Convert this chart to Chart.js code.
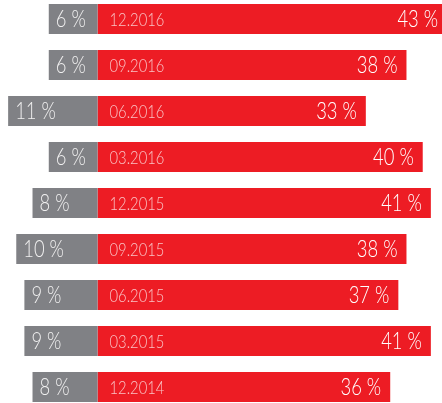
<!DOCTYPE html>
<html>
<head>
<meta charset="utf-8">
<script src="https://cdn.jsdelivr.net/npm/chart.js@4/dist/chart.umd.min.js"></script>
<style>
  html, body { margin: 0; padding: 0; background: #fff; overflow: hidden; }
  #wrap { position: absolute; left: 0; top: -4px; width: 442px; height: 414px; }
</style>
</head>
<body>
<div id="wrap"><canvas id="chart" width="442" height="414"></canvas></div>
<script>
const periods = ['12.2016', '09.2016', '06.2016', '03.2016', '12.2015', '09.2015', '06.2015', '03.2015', '12.2014'];
const greyValues = [6, 6, 11, 6, 8, 10, 9, 9, 8];
const redValues = [43, 38, 33, 40, 41, 38, 37, 41, 36];

const red = '#ed1c24';
const grey = '#808185';
const fontFamily = 'Lato, "Open Sans", sans-serif';

// narrow text: the original uses a condensed face
function drawNarrow(ctx, text, x, y, align, squeeze) {
    ctx.save();
    ctx.translate(x, y);
    ctx.scale(squeeze, 1);
    ctx.textAlign = align;
    ctx.fillText(text, 0, 0);
    ctx.restore();
}

// draws the period and value labels inside the bars
const barLabels = {
    id: 'barLabels',
    afterDatasetsDraw(chart) {
        const ctx = chart.ctx;
        const greyMeta = chart.getDatasetMeta(0);
        const redMeta = chart.getDatasetMeta(1);
        ctx.save();
        ctx.textBaseline = 'middle';
        greyMeta.data.forEach((bar, i) => {
            const left = Math.min(bar.x, bar.base);
            ctx.font = '300 23px ' + fontFamily;
            ctx.fillStyle = '#f0f0f0';
            drawNarrow(ctx, greyValues[i] + ' %', left + 7, bar.y + 1, 'left', 0.8);
        });
        redMeta.data.forEach((bar, i) => {
            ctx.font = '300 18px ' + fontFamily;
            ctx.fillStyle = '#f9c3c5';
            drawNarrow(ctx, periods[i], bar.base + 12, bar.y + 1, 'left', 0.82);
            ctx.font = '300 23px ' + fontFamily;
            ctx.fillStyle = '#ffffff';
            drawNarrow(ctx, redValues[i] + ' %', bar.x - 9, bar.y + 1, 'right', 0.8);
        });
        ctx.restore();
    }
};

new Chart(document.getElementById('chart').getContext('2d'), {
    type: 'bar',
    data: {
        labels: periods,
        datasets: [
            {
                data: greyValues.map(v => -v),
                backgroundColor: grey,
                borderWidth: 0,
                barPercentage: 0.652,
                categoryPercentage: 1,
            },
            {
                data: redValues,
                backgroundColor: red,
                borderWidth: 0,
                barPercentage: 0.652,
                categoryPercentage: 1,
            }
        ]
    },
    options: {
        indexAxis: 'y',
        responsive: false,
        animation: false,
        layout: { padding: 0 },
        plugins: {
            legend: { display: false },
            tooltip: { enabled: false }
        },
        scales: {
            x: { stacked: true, min: -12, max: 42.37, display: false },
            y: { stacked: true, display: false }
        }
    },
    plugins: [barLabels]
});
</script>
</body>
</html>
